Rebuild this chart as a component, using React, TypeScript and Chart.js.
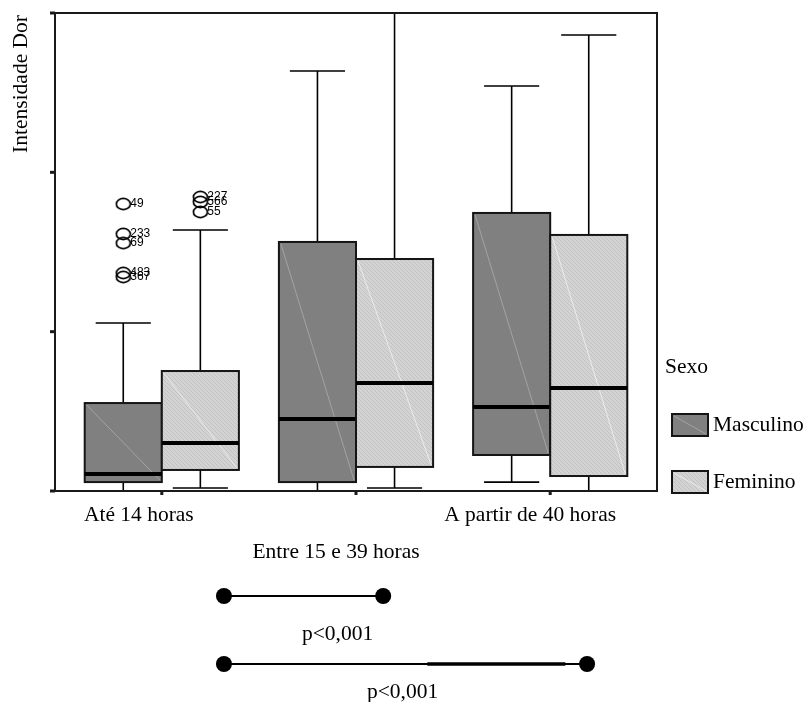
import React, { useEffect, useRef } from "react";
import { Chart, registerables } from "chart.js";

Chart.register(...registerables);

// Work-hour groups on the x axis
const groups = ["Até 14 horas", "Entre 15 e 39 horas", "A partir de 40 horas"];
const sexes = ["Masculino", "Feminino"];

// Five-number summaries per group: lower whisker, Q1, median, Q3, upper whisker
const masculinoLow = [0, 0, 0.56];
const masculinoQ1 = [0.56, 0.56, 2.26];
const masculinoMedian = [1.07, 4.52, 5.27];
const masculinoQ3 = [5.52, 15.63, 17.45];
const masculinoHigh = [10.54, 26.36, 25.42];

const femininoLow = [0.19, 0.19, 0];
const femininoQ1 = [1.32, 1.51, 0.94];
const femininoMedian = [3.01, 6.78, 6.46];
const femininoQ3 = [7.53, 14.56, 16.07];
const femininoHigh = [16.38, 30, 28.62];

// Outlying cases (group index, sex index, value, case number)
const outlierGroup = [0, 0, 0, 0, 0, 0, 0, 0];
const outlierSex = [0, 0, 0, 0, 0, 1, 1, 1];
const outlierValue = [18.01, 16.13, 15.56, 13.68, 13.43, 18.45, 18.14, 17.51];
const outlierCase = ["49", "233", "69", "483", "367", "227", "566", "55"];

// Unlabelled y-axis ticks
const yTicks = [0, 10, 20, 30];

// Pairwise comparisons drawn under the axis: x positions on the group scale
const comparisonFrom = [1.32, 1.32];
const comparisonTo = [2.14, 3.19];
const comparisonLabel = ["p<0,001", "p<0,001"];

const SERIF = "'Liberation Serif', 'Times New Roman', serif";
const FONT = `21.5px ${SERIF}`;
const BOX_HALF = 0.397;
const CAP_HALF = 0.142;
// horizontal nudge of each group label relative to its tick
const labelShift = [-23, -20, -20];

function makeHatch(ctx: CanvasRenderingContext2D) {
  const c = document.createElement("canvas");
  c.width = 4;
  c.height = 4;
  const g = c.getContext("2d")!;
  g.fillStyle = "#d3d3d3";
  g.fillRect(0, 0, 4, 4);
  g.fillStyle = "#c2c2c2";
  for (let i = 0; i < 4; i++) g.fillRect(i, i, 1, 1);
  return ctx.createPattern(c, "repeat")!;
}

function makeRing() {
  const c = document.createElement("canvas");
  c.width = 17;
  c.height = 14;
  const g = c.getContext("2d")!;
  g.strokeStyle = "#000";
  g.lineWidth = 1.7;
  g.beginPath();
  g.ellipse(8.5, 7, 7, 5.6, 0, 0, Math.PI * 2);
  g.stroke();
  return c;
}

function drawBox(
  ctx: CanvasRenderingContext2D,
  left: number,
  top: number,
  width: number,
  height: number,
  fill: string | CanvasPattern,
  diag: string
) {
  ctx.fillStyle = fill;
  ctx.fillRect(left, top, width, height);
  ctx.strokeStyle = diag;
  ctx.lineWidth = 1;
  ctx.beginPath();
  ctx.moveTo(left + 2, top + 2);
  ctx.lineTo(left + width - 2, top + height - 2);
  ctx.stroke();
  ctx.strokeStyle = "#151515";
  ctx.lineWidth = 2;
  ctx.strokeRect(left, top, width, height);
}

const boxPlugin = {
  id: "boxPlot",
  beforeDatasetsDraw(chart: any) {
    const { ctx, scales, chartArea } = chart;
    const xs = scales.x;
    const ys = scales.y;
    const hatch = makeHatch(ctx);
    const series = [
      { low: masculinoLow, q1: masculinoQ1, med: masculinoMedian, q3: masculinoQ3, high: masculinoHigh, fill: "#808080", diag: "#a3a3a3" },
      { low: femininoLow, q1: femininoQ1, med: femininoMedian, q3: femininoQ3, high: femininoHigh, fill: hatch, diag: "#ececec" },
    ];
    const capHalfPx = xs.getPixelForValue(CAP_HALF) - xs.getPixelForValue(0);
    ctx.save();
    series.forEach((s, si) => {
      groups.forEach((_, gi) => {
        const c = gi + 1;
        const left = xs.getPixelForValue(si === 0 ? c - BOX_HALF : c);
        const right = xs.getPixelForValue(si === 0 ? c : c + BOX_HALF);
        const mid = (left + right) / 2;
        const yLow = ys.getPixelForValue(s.low[gi]);
        const yQ1 = ys.getPixelForValue(s.q1[gi]);
        const yMed = ys.getPixelForValue(s.med[gi]);
        const yQ3 = ys.getPixelForValue(s.q3[gi]);
        const yHigh = ys.getPixelForValue(s.high[gi]);

        // whiskers and caps
        ctx.strokeStyle = "#000";
        ctx.lineWidth = 1.6;
        ctx.beginPath();
        ctx.moveTo(mid, yQ3);
        ctx.lineTo(mid, yHigh);
        ctx.moveTo(mid, yQ1);
        ctx.lineTo(mid, yLow);
        ctx.moveTo(mid - capHalfPx, yHigh);
        ctx.lineTo(mid + capHalfPx, yHigh);
        ctx.moveTo(mid - capHalfPx, yLow);
        ctx.lineTo(mid + capHalfPx, yLow);
        ctx.stroke();

        drawBox(ctx, left, yQ3, right - left, yQ1 - yQ3, s.fill, s.diag);

        // median
        ctx.strokeStyle = "#000";
        ctx.lineWidth = 4;
        ctx.beginPath();
        ctx.moveTo(left, yMed);
        ctx.lineTo(right, yMed);
        ctx.stroke();
      });
    });

    // plot frame
    ctx.strokeStyle = "#1a1a1a";
    ctx.lineWidth = 2;
    ctx.strokeRect(chartArea.left, chartArea.top, chartArea.right - chartArea.left, chartArea.bottom - chartArea.top);

    // y ticks
    ctx.fillStyle = "#1a1a1a";
    yTicks.forEach((t) => {
      const y = ys.getPixelForValue(t);
      ctx.fillRect(chartArea.left - 5, y - 1.5, 5, 3);
    });
    // x ticks at group centres
    groups.forEach((_, gi) => {
      const x = xs.getPixelForValue(gi + 1);
      ctx.fillRect(x - 1.5, chartArea.bottom, 3, 4);
    });
    ctx.restore();
  },
  afterDatasetsDraw(chart: any) {
    const { ctx, scales, chartArea } = chart;
    const xs = scales.x;
    const ys = scales.y;
    ctx.save();

    // case numbers next to outliers
    ctx.fillStyle = "#000";
    ctx.font = "12px 'Liberation Sans', Arial, sans-serif";
    ctx.textBaseline = "middle";
    ctx.textAlign = "left";
    outlierValue.forEach((v, i) => {
      const c = outlierGroup[i] + 1;
      const x = xs.getPixelForValue(outlierSex[i] === 0 ? c - BOX_HALF / 2 : c + BOX_HALF / 2);
      ctx.fillText(outlierCase[i], x + 7, ys.getPixelForValue(v));
    });

    ctx.font = FONT;
    // y-axis title
    ctx.save();
    ctx.translate(21, chartArea.top + 2);
    ctx.rotate(-Math.PI / 2);
    ctx.textAlign = "right";
    ctx.textBaseline = "middle";
    ctx.fillText("Intensidade Dor", 0, 0);
    ctx.restore();

    // group labels, alternating rows
    ctx.textAlign = "center";
    ctx.textBaseline = "middle";
    groups.forEach((g, gi) => {
      const x = xs.getPixelForValue(gi + 1) + labelShift[gi];
      const y = chartArea.bottom + (gi % 2 === 0 ? 24 : 61);
      ctx.fillText(g, x, y);
    });

    // legend
    ctx.textAlign = "left";
    ctx.fillText("Sexo", chartArea.right + 8, 367);
    const hatch = makeHatch(ctx);
    const legendFill = ["#808080", hatch];
    const legendDiag = ["#a3a3a3", "#ececec"];
    sexes.forEach((s, si) => {
      const top = 414 + si * 57;
      drawBox(ctx, 672, top, 36, 22, legendFill[si], legendDiag[si]);
      ctx.fillStyle = "#000";
      ctx.fillText(s, 713, top + 11);
    });

    // pairwise comparison bars
    comparisonFrom.forEach((from, i) => {
      const x1 = xs.getPixelForValue(from);
      const x2 = xs.getPixelForValue(comparisonTo[i]);
      const y = chartArea.bottom + 105 + i * 68;
      ctx.strokeStyle = "#000";
      ctx.lineWidth = 2;
      ctx.beginPath();
      ctx.moveTo(x1, y);
      ctx.lineTo(x2, y);
      ctx.stroke();
      if (i === 1) {
        ctx.lineWidth = 3.5;
        ctx.beginPath();
        ctx.moveTo(x1 + (x2 - x1) * 0.56, y);
        ctx.lineTo(x1 + (x2 - x1) * 0.94, y);
        ctx.stroke();
      }
      ctx.fillStyle = "#000";
      [x1, x2].forEach((x) => {
        ctx.beginPath();
        ctx.arc(x, y, 8, 0, Math.PI * 2);
        ctx.fill();
      });
      ctx.textAlign = "center";
      ctx.fillText(comparisonLabel[i], (x1 + x2) / 2 + (i === 0 ? 34 : -3), y + (i === 0 ? 38 : 28));
    });
    ctx.restore();
  },
};

export default function App() {
  const ref = useRef<HTMLCanvasElement>(null);
  useEffect(() => {
    const ring = makeRing();
    const points = outlierValue.map((v, i) => ({
      x: outlierGroup[i] + 1 + (outlierSex[i] === 0 ? -BOX_HALF / 2 : BOX_HALF / 2),
      y: v,
    }));
    const chart = new Chart(ref.current!, {
      type: "scatter",
      data: {
        datasets: [
          {
            label: "Outliers",
            data: points,
            pointStyle: ring as any,
            pointRadius: 7,
          },
        ],
      },
      options: {
        animation: false,
        responsive: false,
        events: [],
        layout: { padding: { left: 55, right: 150, top: 13, bottom: 211 }, autoPadding: false },
        plugins: { legend: { display: false }, tooltip: { enabled: false } },
        scales: {
          x: { type: "linear", min: 0.45, max: 3.55, display: false },
          y: { type: "linear", min: 0, max: 30, display: false },
        },
      },
      plugins: [boxPlugin],
    });
    return () => chart.destroy();
  }, []);
  return (
    <div style={{ position: "fixed", left: 0, top: 0, width: 807, height: 702, background: "#fff" }}>
      <canvas ref={ref} width={807} height={702} style={{ width: 807, height: 702 }} />
    </div>
  );
}
